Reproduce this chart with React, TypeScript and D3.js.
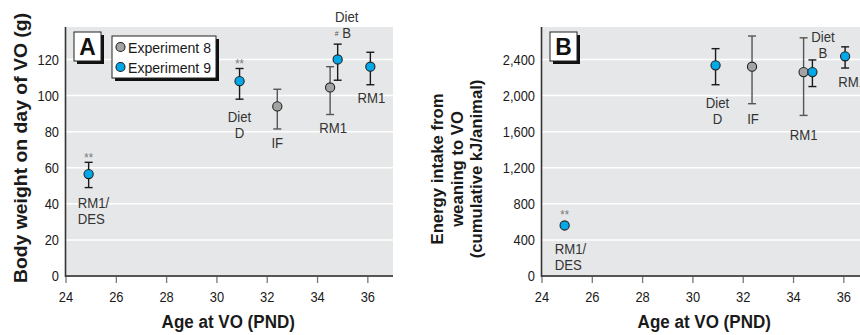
import React from 'react';
import * as d3 from 'd3';

// experiment 8 = gray, experiment 9 = blue
const ageA = [24.9, 30.9, 32.4, 34.5, 34.8, 36.1];
const expA = [9, 9, 8, 8, 9, 9];
const weightMean = [56.5, 108, 94, 104.5, 120, 116];
const weightLow = [49, 98, 81.5, 89.5, 108.5, 106];
const weightHigh = [63, 115, 103.5, 116, 128.5, 124];

const ageB = [24.9, 30.9, 32.35, 34.4, 34.75, 36.05];
const expB = [9, 9, 8, 8, 9, 9];
const energyMean = [560, 2335, 2320, 2260, 2260, 2435];
const energyLow = [null, 2120, 1910, 1780, 2100, 2305];
const energyHigh = [null, 2520, 2660, 2640, 2395, 2540];

const labelsA = [['RM1/', 'DES'], ['Diet', 'D'], ['IF'], ['RM1'], ['Diet', 'B'], ['RM1']];
const labelsB = [['RM1/', 'DES'], ['Diet', 'D'], ['IF'], ['RM1'], ['Diet', 'B'], ['RM1']];
const starsA = [true, true, false, false, false, false];
const starsB = [true, false, false, false, false, false];

const xTicks = [24, 26, 28, 30, 32, 34, 36];
const yTicksA = [0, 20, 40, 60, 80, 100, 120];
const yTicksB = [0, 400, 800, 1200, 1600, 2000, 2400];
const legendItems = ['Experiment 8', 'Experiment 9'];

const FONT = '"Liberation Sans", Arial, Helvetica, sans-serif';
const BLUE = '#00a8e8';
const GRAY = '#a3a3a3';
const BG = '#e6e7e8';

// label offsets in px relative to each point: [dx, dy of first line, anchor]
const layoutA = [
  [-11, 29, 'start'],
  [0, 35, 'middle'],
  [0, 36, 'middle'],
  [3, 40, 'middle'],
  [9, -43, 'middle'],
  [1, 31, 'middle'],
];
const layoutB = [
  [-10, 23, 'start'],
  [2, 37, 'middle'],
  [1, 52, 'middle'],
  [0, 62, 'middle'],
  [10.5, -36, 'middle'],
  [7, 25, 'middle'],
];

const top = 27;
const bottom = 276;

// condensed text: the page has no narrow font, so squeeze a regular one
function T({ x, y, sx = 0.86, rot = 0, children, ...rest }) {
  const tr = `translate(${x},${y})` + (rot ? ` rotate(${rot})` : '') + ` scale(${sx},1)`;
  return (
    <text transform={tr} {...rest}>
      {children}
    </text>
  );
}

function Panel({ left, letter, age, exp, mean, low, high, labels, stars, yMax, yTicks, yFmt, layout, hash }) {
  const x = d3.scaleLinear().domain([24, 37]).range([left, left + 327]);
  const y = d3.scaleLinear().domain([0, yMax]).range([bottom, top]);
  const x0 = x(24);
  const x1 = x(37);
  const fmt = d3.format(yFmt);
  const cap = 4;

  return (
    <g>
      <rect x={x0} y={top} width={x1 - x0} height={bottom - top} fill={BG} />
      {yTicks.filter((t) => t > 0).map((t) => (
        <line key={t} x1={x0} x2={x1} y1={y(t)} y2={y(t)} stroke="#fff" strokeWidth={1.5} />
      ))}
      {xTicks.map((t) => (
        <g key={t}>
          <line x1={x(t)} x2={x(t)} y1={bottom} y2={bottom + 7} stroke="#777" strokeWidth={1.3} />
          <T x={x(t)} y={302} textAnchor="middle" fontSize={15} fill="#1a1a1a">{t}</T>
        </g>
      ))}
      {yTicks.map((t) => (
        <T key={t} x={x0 - 7} y={y(t) + 5.4} textAnchor="end" fontSize={15} fill="#1a1a1a">{fmt(t)}</T>
      ))}
      <line x1={x0} x2={x1} y1={bottom} y2={bottom} stroke="#555" strokeWidth={2} />
      <line x1={x0 - 0.5} x2={x0 - 0.5} y1={top} y2={bottom + 1} stroke="#333" strokeWidth={1.6} />

      {/* error bars */}
      {age.map((a, i) => {
        if (low[i] == null) return null;
        const cx = x(a);
        const c = exp[i] === 8 ? '#555' : '#1a1a1a';
        return (
          <g key={'e' + i} stroke={c} strokeWidth={1.4}>
            <line x1={cx} x2={cx} y1={y(low[i])} y2={y(high[i])} />
            <line x1={cx - cap} x2={cx + cap} y1={y(low[i])} y2={y(low[i])} />
            <line x1={cx - cap} x2={cx + cap} y1={y(high[i])} y2={y(high[i])} />
          </g>
        );
      })}
      {age.map((a, i) => (
        <circle key={'p' + i} cx={x(a)} cy={y(mean[i])} r={4.6} fill={exp[i] === 8 ? GRAY : BLUE} stroke="#222" strokeWidth={1.1} />
      ))}

      {/* annotations */}
      {age.map((a, i) => {
        const [dx, dy, anchor] = layout[i];
        const cx = x(a) + dx;
        const cy = y(mean[i]) + dy;
        return (
          <g key={'l' + i}>
            {labels[i].map((s, k) => (
              <T key={k} x={cx} y={cy + k * 16 + 5.4} sx={0.88} textAnchor={anchor} fontSize={15} fill="#333">{s}</T>
            ))}
            {stars[i] && (
              <T x={x(a)} y={low[i] == null ? y(mean[i]) - 6 : y(high[i]) - 0.5} textAnchor="middle" fontSize={13} fill="#777">**</T>
            )}
          </g>
        );
      })}
      {hash && (
        <T x={x(age[4]) - 1} y={y(mean[4]) - 23} textAnchor="middle" fontSize={8} fill="#555">#</T>
      )}

      {/* panel letter */}
      <rect x={x0 + 11} y={35} width={27} height={29} fill="#111" />
      <rect x={x0 + 8} y={32} width={27} height={29} fill="#fff" stroke="#222" strokeWidth={1} />
      <T x={x0 + 21.5} y={55} sx={0.95} textAnchor="middle" fontSize={24} fontWeight="bold" fill="#111">{letter}</T>

      <T x={(x0 + x(36.9)) / 2} y={328} sx={0.92} textAnchor="middle" fontSize={18.5} fontWeight="bold" fill="#1a1a1a">Age at VO (PND)</T>
    </g>
  );
}

export default function App() {
  return (
    <svg width={860} height={335} style={{ position: 'absolute', left: 0, top: 0 }} fontFamily={FONT}>
      <rect width={860} height={335} fill="#fff" />
      <Panel
        left={66}
        letter="A"
        age={ageA}
        exp={expA}
        mean={weightMean}
        low={weightLow}
        high={weightHigh}
        labels={labelsA}
        stars={starsA}
        yMax={138}
        yTicks={yTicksA}
        yFmt="d"
        layout={layoutA}
        hash
      />
      <T x={27} y={148} rot={-90} sx={1.02} textAnchor="middle" fontSize={19} fontWeight="bold" fill="#1a1a1a">
        Body weight on day of VO (g)
      </T>

      <Panel
        left={542}
        letter="B"
        age={ageB}
        exp={expB}
        mean={energyMean}
        low={energyLow}
        high={energyHigh}
        labels={labelsB}
        stars={starsB}
        yMax={2760}
        yTicks={yTicksB}
        yFmt=","
        layout={layoutB}
        hash={false}
      />
      <g fontSize={17} fontWeight="bold" fill="#1a1a1a" textAnchor="middle">
        <T x={443} y={169} rot={-90} sx={0.98}>Energy intake from</T>
        <T x={463} y={169} rot={-90} sx={0.98}>weaning to VO</T>
        <T x={482} y={169} rot={-90} sx={0.98}>(cumulative kJ/animal)</T>
      </g>

      {/* legend in panel A */}
      <rect x={115} y={39} width={104} height={42} fill="#111" />
      <rect x={112} y={36} width={104} height={42} fill="#fff" stroke="#222" strokeWidth={1} />
      {legendItems.map((s, i) => (
        <g key={s}>
          <circle cx={120.5} cy={47 + i * 20} r={4.5} fill={i === 0 ? GRAY : BLUE} stroke="#222" strokeWidth={1.1} />
          <T x={128} y={52.5 + i * 20} sx={0.91} fontSize={15.5} fill="#1a1a1a">{s}</T>
        </g>
      ))}
    </svg>
  );
}
